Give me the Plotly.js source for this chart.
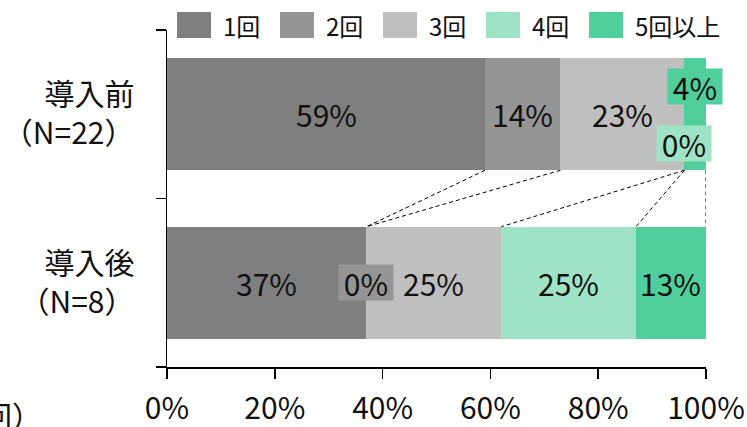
<!DOCTYPE html>
<html>
<head>
<meta charset="utf-8">
<script src="https://cdn.plot.ly/plotly-3.0.1.min.js"></script>
<style>
  html, body { margin: 0; padding: 0; background: #fff; }
  #chart { width: 747px; height: 427px; }
</style>
</head>
<body>
<div id="chart"></div>
<script>
// Groups (top to bottom) and their axis labels
const groups = ['導入前', '導入後'];
const groupLabels = ['導入前<br>（N=22）', '導入後<br>（N=8）'];

// Frequency classes (stack order, left to right)
const seriesNames = ['1回', '2回', '3回', '4回', '5回以上'];

// Share of respondents per class, in percent: [導入前, 導入後]
const share1 = [59, 37];
const share2 = [14, 0];
const share3 = [23, 25];
const share4 = [0, 25];
const share5 = [4, 13];

const xTickValues = [0, 20, 40, 60, 80, 100];
const xTickLabels = ['0%', '20%', '40%', '60%', '80%', '100%'];
const unitLabel = '（回）';

// ---- styling ----
const FONT = '"Noto Sans CJK JP", "Noto Sans", sans-serif';
const TEXT = '#111111';
const colors = ['#7f7f7f', '#959595', '#bfbfbf', '#9fe3c6', '#50cf9c'];
const BAR_GAP = 0.335;
const BAR_W = 1 - BAR_GAP;

// label boxes that sit off-centre (series index, group index) -> vertical nudge in px
const labelNudge = { '3,0': 29, '4,0': -28 };
const boxed = { '3,0': true, '4,0': true, '1,1': true };

const shares = [share1, share2, share3, share4, share5];

const traces = seriesNames.map((name, s) => ({
  type: 'bar',
  orientation: 'h',
  name: name,
  y: groups,
  x: shares[s],
  marker: { color: colors[s], line: { width: 0 } },
  hoverinfo: 'skip',
  showlegend: false
}));

// cumulative boundaries per group
const cum = groups.map((g, gi) => {
  let acc = 0;
  return shares.map(arr => { const start = acc; acc += arr[gi]; return { start, end: acc }; });
});

const annotations = [];
const shapes = [];

// value labels
shares.forEach((arr, s) => {
  groups.forEach((g, gi) => {
    const key = s + ',' + gi;
    const c = cum[gi][s];
    const a = {
      x: (c.start + c.end) / 2,
      y: gi,
      xref: 'x', yref: 'y',
      text: arr[gi] + '%',
      showarrow: false,
      font: { family: FONT, size: 30, color: TEXT },
      yshift: -(labelNudge[key] || 0),
      xanchor: 'center', yanchor: 'middle'
    };
    if (boxed[key]) {
      a.bgcolor = colors[s];
      a.borderpad = 0;
      a.width = 54;
      a.height = 35;
    }
    annotations.push(a);
  });
});

// series connector lines between the two bars
seriesNames.forEach((n, s) => {
  shapes.push({
    type: 'line', xref: 'x', yref: 'y',
    x0: cum[0][s].end, y0: 0 + BAR_W / 2,
    x1: cum[1][s].end, y1: 1 - BAR_W / 2,
    line: { color: '#000', width: 1, dash: '4px,3px' }
  });
});

// legend row above the plot
const PLOT_L = 167, PLOT_W = 539, PLOT_T = 30, PLOT_H = 337;
const px2x = p => (p - PLOT_L) / PLOT_W;
const py2y = p => (PLOT_T + PLOT_H - p) / PLOT_H;
seriesNames.forEach((n, s) => {
  const left = 177 + 103 * s;
  shapes.push({
    type: 'rect', xref: 'paper', yref: 'paper',
    x0: px2x(left), x1: px2x(left + 34),
    y0: py2y(38), y1: py2y(12),
    fillcolor: colors[s], line: { width: 0 }
  });
  annotations.push({
    xref: 'paper', yref: 'paper',
    x: px2x(left + 44), y: py2y(25),
    xanchor: 'left', yanchor: 'middle',
    text: n, showarrow: false,
    font: { family: FONT, size: 24, color: TEXT }
  });
});

// unit note at the lower left
annotations.push({
  xref: 'paper', yref: 'paper',
  x: px2x(44), y: py2y(415),
  xanchor: 'right', yanchor: 'middle',
  text: unitLabel, showarrow: false,
  font: { family: FONT, size: 30, color: TEXT }
});

const layout = {
  width: 747, height: 427,
  margin: { l: PLOT_L, r: 747 - PLOT_L - PLOT_W, t: PLOT_T, b: 427 - PLOT_T - PLOT_H, pad: 0 },
  paper_bgcolor: '#fff', plot_bgcolor: '#fff',
  barmode: 'stack',
  bargap: BAR_GAP,
  showlegend: false,
  font: { family: FONT, color: TEXT },
  xaxis: {
    range: [0, 100],
    tickvals: xTickValues, ticktext: xTickLabels,
    showgrid: false, zeroline: false,
    showline: true, linecolor: '#000', linewidth: 1.5,
    ticks: 'outside', ticklen: 10, tickwidth: 1.5, tickcolor: '#000',
    tickfont: { family: FONT, size: 30, color: TEXT },
    ticklabelstandoff: 4,
    fixedrange: true
  },
  yaxis: {
    type: 'category',
    categoryorder: 'array', categoryarray: groups,
    tickvals: groups, ticktext: groupLabels,
    autorange: 'reversed',
    tickson: 'boundaries',
    showgrid: false, zeroline: false,
    showline: true, linecolor: '#000', linewidth: 1.5,
    ticks: 'outside', ticklen: 10, tickwidth: 1.5, tickcolor: '#000',
    tickfont: { family: FONT, size: 30, color: TEXT },
    ticklabelstandoff: 25,
    fixedrange: true
  },
  shapes: shapes,
  annotations: annotations
};

Plotly.newPlot('chart', traces, layout, { displayModeBar: false, staticPlot: true });
</script>
</body>
</html>
